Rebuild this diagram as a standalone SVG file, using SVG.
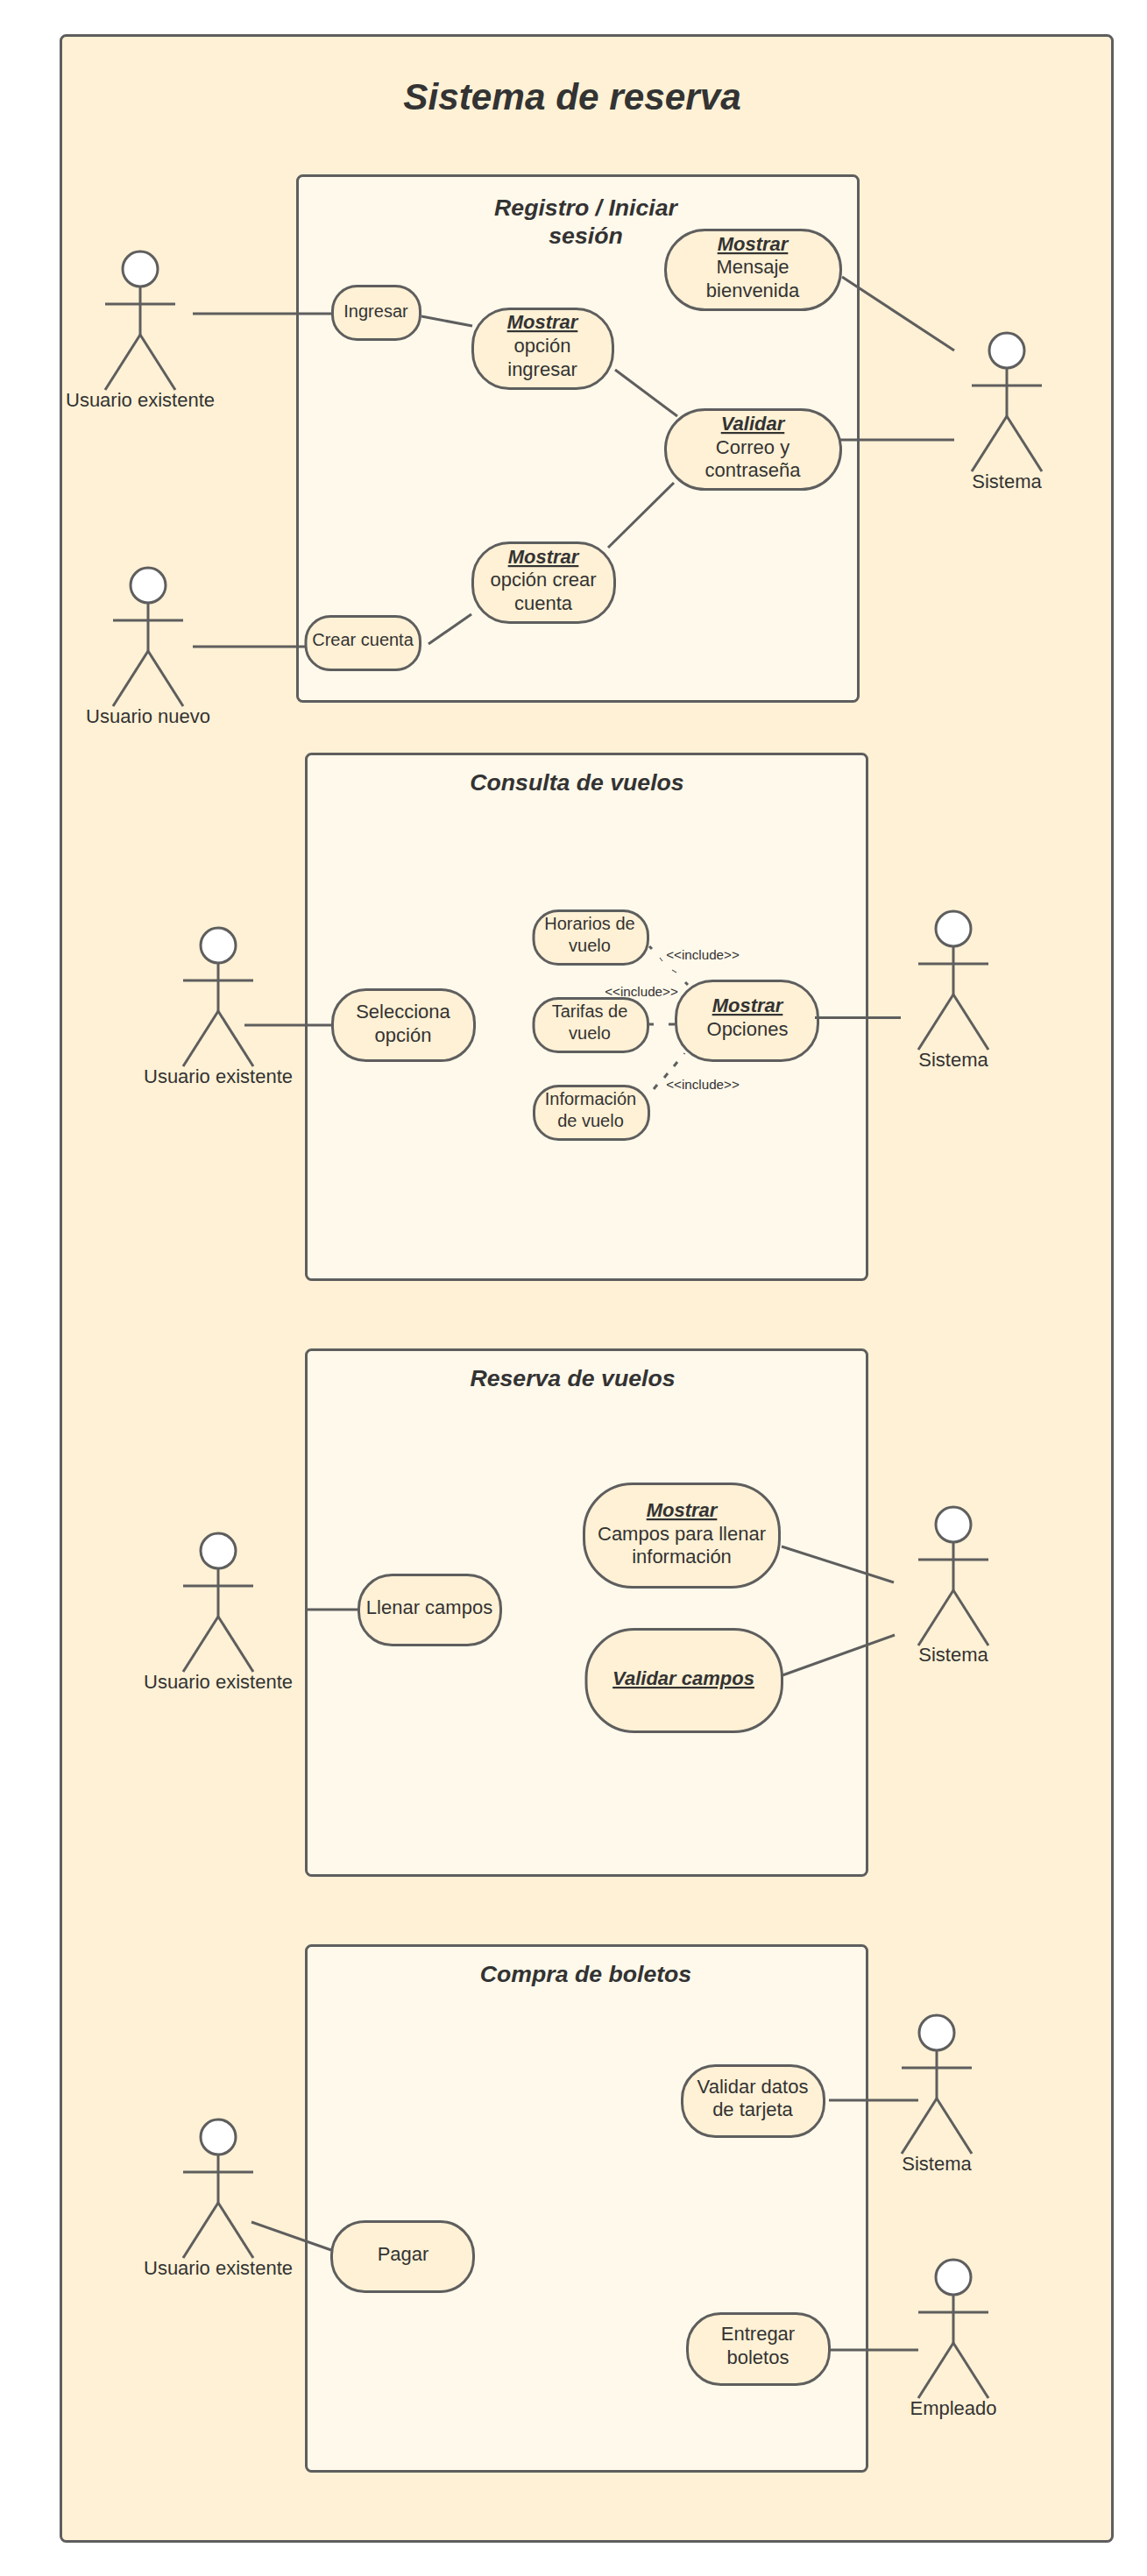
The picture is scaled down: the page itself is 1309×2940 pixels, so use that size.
<svg xmlns="http://www.w3.org/2000/svg" width="1309" height="2940" viewBox="0 0 1309 2940">
<style>
text{font-family:"Liberation Sans",Arial,sans-serif;fill:#333;text-anchor:middle;font-size:22px}
.s{font-size:20px}.i{font-size:15.2px}
.t{font-size:26.67px;font-weight:bold;font-style:italic}
.h{font-size:42.3px;font-weight:bold;font-style:italic}
.m{font-weight:bold;font-style:italic;text-decoration:underline}
.c{fill:#fff9eb;stroke:#5e5e5e;stroke-width:3}
.n rect{fill:#fff1d5;stroke:#5e5e5e;stroke-width:3}
.l line{stroke:#5e5e5e;stroke-width:3;fill:none}
.st{stroke:#5e5e5e;stroke-width:3;fill:#fff}
.l .d2{stroke-width:1.2}
</style>
<defs>
<g id="stick">
<line class="st" x1="0" y1="20" x2="0" y2="75"/>
<line class="st" x1="-40" y1="40" x2="40" y2="40"/>
<line class="st" x1="0" y1="75" x2="-40" y2="138"/>
<line class="st" x1="0" y1="75" x2="40" y2="138"/>
<circle class="st" cx="0" cy="0" r="20"/>
</g>
</defs>
<g id="system"><rect class="c" style="fill:#fff1d5" x="69.500" y="40.500" width="1200" height="2860" rx="6"/><text class="h" x="653" y="125">Sistema de reserva</text></g>
<g id="box-registro"><rect class="c" x="339.500" y="200.500" width="640" height="600" rx="6"/><text class="t" x="668.500" y="246">Registro / Iniciar</text><text class="t" x="668.500" y="278">sesión</text></g>
<g id="box-consulta"><rect class="c" x="349.500" y="860.500" width="640" height="600" rx="6"/><text class="t" x="658.500" y="902">Consulta de vuelos</text></g>
<g id="box-reserva"><rect class="c" x="349.500" y="1540.500" width="640" height="600" rx="6"/><text class="t" x="653.500" y="1582">Reserva de vuelos</text></g>
<g id="box-compra"><rect class="c" x="349.500" y="2220.500" width="640" height="600" rx="6"/><text class="t" x="668.500" y="2262">Compra de boletos</text></g>
<g id="include-labels"><text class="i" x="802" y="1095">&lt;&lt;include&gt;&gt;</text><text class="i" x="732" y="1137">&lt;&lt;include&gt;&gt;</text><text class="i" x="802" y="1243">&lt;&lt;include&gt;&gt;</text></g>
<g id="n-ingresar" class="n"><rect x="379.500" y="326.500" width="100" height="61" rx="28"/><text class="s" x="429" y="362">Ingresar</text></g>
<g id="n-mostrar-ingresar" class="n"><rect x="539.500" y="352.500" width="160" height="91" rx="42"/><text class="m" x="619" y="375">Mostrar</text><text x="619" y="402">opción</text><text x="619" y="429">ingresar</text></g>
<g id="n-mensaje" class="n"><rect x="759.500" y="262.500" width="200" height="91" rx="45"/><text class="m" x="859" y="286">Mostrar</text><text x="859" y="312">Mensaje</text><text x="859" y="339">bienvenida</text></g>
<g id="n-validar" class="n"><rect x="759.500" y="467.500" width="200" height="91" rx="45"/><text class="m" x="859" y="491">Validar</text><text x="859" y="518">Correo y</text><text x="859" y="544">contraseña</text></g>
<g id="n-mostrar-crear" class="n"><rect x="539.500" y="619.500" width="162" height="91" rx="42"/><text class="m" x="620" y="643">Mostrar</text><text x="620" y="669">opción crear</text><text x="620" y="696">cuenta</text></g>
<g id="n-crear" class="n"><rect x="349" y="703.500" width="130.500" height="61" rx="28"/><text class="s" x="414" y="737">Crear cuenta</text></g>
<g id="n-selecciona" class="n"><rect x="379.500" y="1129.500" width="162" height="81" rx="38"/><text x="460" y="1162">Selecciona</text><text x="460" y="1189">opción</text></g>
<g id="n-horarios" class="n"><rect x="609" y="1039.500" width="130.500" height="61" rx="28"/><text class="s" x="673" y="1061">Horarios de</text><text class="s" x="673" y="1086">vuelo</text></g>
<g id="n-tarifas" class="n"><rect x="609" y="1139.500" width="130.500" height="61" rx="28"/><text class="s" x="673" y="1161">Tarifas de</text><text class="s" x="673" y="1186">vuelo</text></g>
<g id="n-informacion" class="n"><rect x="609.500" y="1239.500" width="131" height="61" rx="28"/><text class="s" x="674" y="1261">Información</text><text class="s" x="674" y="1286">de vuelo</text></g>
<g id="n-opciones" class="n"><rect x="771.500" y="1119.500" width="162" height="91" rx="42"/><text class="m" x="853" y="1155">Mostrar</text><text x="853" y="1182">Opciones</text></g>
<g id="n-llenar" class="n"><rect x="409.500" y="1797.500" width="162" height="80" rx="38"/><text x="490" y="1842">Llenar campos</text></g>
<g id="n-campos" class="n"><rect x="666.500" y="1693.500" width="223" height="118" rx="55"/><text class="m" x="778" y="1731">Mostrar</text><text x="778" y="1758">Campos para llenar</text><text x="778" y="1784">información</text></g>
<g id="n-validar-campos" class="n"><rect x="669" y="1859.500" width="223.500" height="117" rx="55"/><text class="m" x="780" y="1923">Validar campos</text></g>
<g id="n-tarjeta" class="n"><rect x="778.500" y="2357.500" width="162" height="81" rx="38"/><text x="859" y="2389">Validar datos</text><text x="859" y="2415">de tarjeta</text></g>
<g id="n-entregar" class="n"><rect x="784.500" y="2640.500" width="162" height="81" rx="38"/><text x="865" y="2671">Entregar</text><text x="865" y="2698">boletos</text></g>
<g id="n-pagar" class="n"><rect x="378.500" y="2535.500" width="162" height="80" rx="38"/><text x="460" y="2580">Pagar</text></g>
<g id="a-usuario-1"><use href="#stick" x="160" y="307"/><text x="160" y="464">Usuario existente</text></g>
<g id="a-usuario-nuevo"><use href="#stick" x="169" y="668"/><text x="169" y="825">Usuario nuevo</text></g>
<g id="a-sistema-1"><use href="#stick" x="1149" y="400"/><text x="1149" y="557">Sistema</text></g>
<g id="a-usuario-2"><use href="#stick" x="249" y="1079"/><text x="249" y="1236">Usuario existente</text></g>
<g id="a-sistema-2"><use href="#stick" x="1088" y="1060"/><text x="1088" y="1217">Sistema</text></g>
<g id="a-usuario-3"><use href="#stick" x="249" y="1770"/><text x="249" y="1927">Usuario existente</text></g>
<g id="a-sistema-3"><use href="#stick" x="1088" y="1740"/><text x="1088" y="1896">Sistema</text></g>
<g id="a-usuario-4"><use href="#stick" x="249" y="2439"/><text x="249" y="2596">Usuario existente</text></g>
<g id="a-sistema-4"><use href="#stick" x="1069" y="2320"/><text x="1069" y="2477">Sistema</text></g>
<g id="a-empleado"><use href="#stick" x="1088" y="2599"/><text x="1088" y="2756">Empleado</text></g>
<g id="connectors" class="l">
<line x1="220" y1="358" x2="379" y2="358"/>
<line x1="481" y1="361" x2="539" y2="372"/>
<line x1="702" y1="422" x2="773" y2="475"/>
<line x1="961" y1="316" x2="1089" y2="400"/>
<line x1="959" y1="502" x2="1089" y2="502"/>
<line x1="769" y1="551" x2="694" y2="625"/>
<line x1="220" y1="738" x2="348" y2="738"/>
<line x1="489" y1="735" x2="538" y2="701"/>
<line x1="279" y1="1170" x2="379" y2="1170"/>
<line x1="930" y1="1161.500" x2="1028" y2="1161.500"/>
<line x1="741" y1="1080" x2="744" y2="1083"/>
<line class="d2" x1="753" y1="1093" x2="756" y2="1097"/>
<line class="d2" x1="767" y1="1107" x2="772" y2="1110"/>
<line x1="782" y1="1121" x2="785" y2="1124"/>
<line x1="740" y1="1169" x2="746" y2="1169"/>
<line x1="763" y1="1169" x2="770" y2="1169"/>
<line class="d2" x1="780" y1="1202" x2="782" y2="1203"/>
<line x1="769" y1="1217" x2="773" y2="1212"/>
<line x1="758" y1="1230" x2="762" y2="1225"/>
<line x1="746" y1="1243" x2="750" y2="1238"/>
<line x1="349" y1="1837" x2="409" y2="1837"/>
<line x1="892" y1="1765" x2="1020" y2="1806"/>
<line x1="893" y1="1912" x2="1021" y2="1866"/>
<line x1="946" y1="2397" x2="1048" y2="2397"/>
<line x1="947" y1="2682" x2="1048" y2="2682"/>
<line x1="287" y1="2536" x2="378" y2="2568"/>
</g>
</svg>
